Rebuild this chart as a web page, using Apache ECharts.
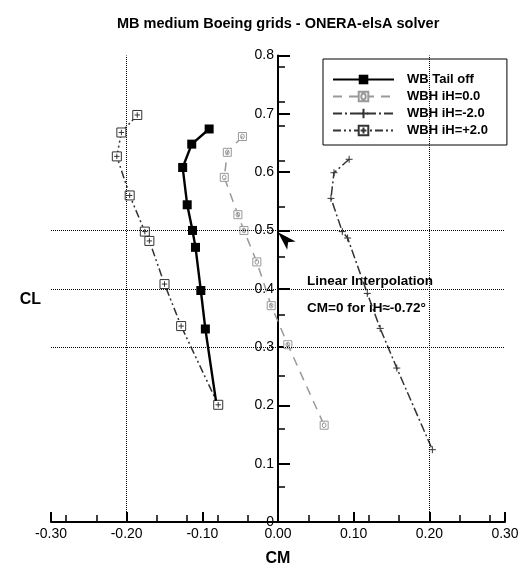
<!DOCTYPE html>
<html><head><meta charset="utf-8">
<script src="https://cdn.jsdelivr.net/npm/echarts@6/dist/echarts.min.js"></script>
<style>html,body{margin:0;padding:0;background:#fff}#c{width:525px;height:576px}</style>
</head><body><div id="c"></div>
<script>
// ---- data ----
const seriesNames = ['WB Tail off', 'WBH iH=0.0', 'WBH iH=-2.0', 'WBH iH=+2.0'];

const tailOffCM = [-0.091, -0.114, -0.126, -0.120, -0.113, -0.109, -0.102, -0.096, -0.082];
const tailOffCL = [0.674, 0.648, 0.608, 0.544, 0.500, 0.471, 0.397, 0.331, 0.208];

const ih0CM = [-0.047, -0.067, -0.071, -0.053, -0.045, -0.028, -0.009, 0.013, 0.061];
const ih0CL = [0.661, 0.634, 0.591, 0.527, 0.500, 0.446, 0.371, 0.304, 0.166];

const ihm2CM = [0.094, 0.074, 0.070, 0.085, 0.092, 0.118, 0.135, 0.157, 0.204];
const ihm2CL = [0.622, 0.599, 0.555, 0.498, 0.487, 0.392, 0.332, 0.264, 0.124];

const ihp2CM = [-0.186, -0.207, -0.213, -0.196, -0.176, -0.170, -0.150, -0.128, -0.079];
const ihp2CL = [0.698, 0.668, 0.627, 0.560, 0.498, 0.482, 0.408, 0.336, 0.201];

const cmMinorTicks = [-0.28, -0.24, -0.16, -0.12, -0.08, -0.04, 0.04, 0.08, 0.12, 0.16, 0.24, 0.28];
const clMinorTicks = [0.06, 0.16, 0.25, 0.355, 0.455, 0.54, 0.62, 0.68, 0.72, 0.78];
const gridCM = [-0.2, 0.2];
const gridCL = [0.3, 0.4, 0.5];
const arrowAt = [0.0, 0.497];

const titleText = 'MB medium Boeing grids - ONERA-elsA solver';
const noteLine1 = 'Linear Interpolation';
const noteLine2 = 'CM=0 for iH\u2248-0.72\u00b0';

// ---- chart ----
const FONT = '"Liberation Sans", Arial, Helvetica, sans-serif';
const pairs = (xs, ys) => xs.map((v, i) => [v, ys[i]]);

const boxPlus = 'path://M0,0L10,0L10,10L0,10Z M5,2L5,8 M2,5L8,5';
const plus = 'path://M5,0L5,10 M0,5L10,5';
const boxO = 'path://M0,0L10,0L10,10L0,10Z M5,2A2.3,3 0 1,0 5,8A2.3,3 0 1,0 5,2Z';

const tailData = pairs(tailOffCM, tailOffCL).map((p, i, a) =>
  i === a.length - 1 ? { value: p, symbol: 'none' } : p);

const Y_OFFSET = -227; // put the CL axis on CM = 0

const chart = echarts.init(document.getElementById('c'), null, { renderer: 'canvas' });
chart.setOption({
  animation: false,
  backgroundColor: '#fff',
  textStyle: { fontFamily: FONT },
  title: {
    text: titleText, left: 112, top: 11,
    textStyle: { fontSize: 14.5, fontWeight: 'bold', color: '#000', fontFamily: FONT }
  },
  grid: { left: 51, right: 20, top: 55.5, bottom: 54, containLabel: false, outerBoundsMode: 'none' },
  legend: {
    data: seriesNames, orient: 'vertical', left: 323, top: 59,
    padding: [14, 19, 8, 9], itemGap: 4, itemWidth: 61, itemHeight: 12,
    borderColor: '#000', borderWidth: 1, backgroundColor: '#fff',
    textStyle: { fontSize: 13, fontWeight: 'bold', color: '#000', fontFamily: FONT, padding: [0, 0, 0, 8] }
  },
  xAxis: [{
    type: 'value', min: -0.3, max: 0.3, interval: 0.1,
    name: 'CM', nameLocation: 'middle', nameGap: 29,
    nameTextStyle: { fontSize: 16, fontWeight: 'bold', color: '#000', fontFamily: FONT },
    axisLine: { onZero: false, lineStyle: { color: '#000', width: 2 } },
    axisTick: { inside: true, length: 10, lineStyle: { color: '#000', width: 2 } },
    axisLabel: { fontSize: 14, color: '#000', margin: 5, fontFamily: FONT, formatter: v => v.toFixed(2) },
    splitLine: { show: false }
  }, {
    type: 'value', min: -0.3, max: 0.3, position: 'bottom',
    axisLine: { show: false, onZero: false },
    axisTick: { inside: true, length: 7, customValues: cmMinorTicks, lineStyle: { color: '#000', width: 1.5 } },
    axisLabel: { show: false }, splitLine: { show: false }
  }],
  yAxis: [{
    type: 'value', min: 0, max: 0.8, interval: 0.1, position: 'left', offset: Y_OFFSET,
    name: 'CL', nameLocation: 'middle', nameGap: 237, nameRotate: 0,
    nameTextStyle: { fontSize: 16, fontWeight: 'bold', color: '#000', fontFamily: FONT, verticalAlign: 'top', padding: [3, 0, 0, 0] },
    axisLine: { onZero: false, lineStyle: { color: '#000', width: 2 } },
    axisTick: { inside: true, length: 12, lineStyle: { color: '#000', width: 2 } },
    axisLabel: { fontSize: 14, color: '#000', margin: 4, fontFamily: FONT, formatter: v => v === 0 ? '0' : v.toFixed(1) },
    splitLine: { show: false }
  }, {
    type: 'value', min: 0, max: 0.8, position: 'left', offset: Y_OFFSET,
    axisLine: { show: false, onZero: false },
    axisTick: { inside: true, length: 7, customValues: clMinorTicks, lineStyle: { color: '#000', width: 1.5 } },
    axisLabel: { show: false }, splitLine: { show: false }
  }],
  graphic: [
    { type: 'text', left: 307, top: 274, style: { text: noteLine1, fontSize: 13.5, fontWeight: 'bold', fontFamily: FONT, fill: '#000' } },
    { type: 'text', left: 307, top: 301, style: { text: noteLine2, fontSize: 13.5, fontWeight: 'bold', fontFamily: FONT, fill: '#000' } }
  ],
  series: [
    {
      type: 'line', name: 'grid', data: [], z: 1, silent: true,
      markLine: {
        silent: true, symbol: 'none', label: { show: false },
        lineStyle: { type: 'dotted', color: '#000', width: 1 },
        data: gridCM.map(v => ({ xAxis: v })).concat(gridCL.map(v => ({ yAxis: v })))
      },
      markPoint: {
        silent: true,
        data: [{ coord: arrowAt, symbol: 'arrow', symbolSize: [9, 19], symbolRotate: 45,
                 itemStyle: { color: '#000' }, label: { show: false } }]
      }
    },
    {
      type: 'line', name: seriesNames[1], data: pairs(ih0CM, ih0CL), z: 3,
      symbol: boxO, symbolSize: 8,
      itemStyle: { color: '#fff', borderColor: '#999', borderWidth: 1 },
      lineStyle: { color: '#999', width: 1.5, type: [9, 7] }
    },
    {
      type: 'line', name: seriesNames[2], data: pairs(ihm2CM, ihm2CL), z: 3,
      symbol: plus, symbolSize: 7,
      itemStyle: { color: '#fff', borderColor: '#333', borderWidth: 1 },
      lineStyle: { color: '#333', width: 1.5, type: [9, 3, 2, 3] }
    },
    {
      type: 'line', name: seriesNames[3], data: pairs(ihp2CM, ihp2CL), z: 3,
      symbol: boxPlus, symbolSize: 9,
      itemStyle: { color: '#fff', borderColor: '#333', borderWidth: 1 },
      lineStyle: { color: '#333', width: 1.5, type: [8, 3, 2, 3, 2, 3] }
    },
    {
      type: 'line', name: seriesNames[0], data: tailData, z: 4,
      symbol: 'rect', symbolSize: 9,
      itemStyle: { color: '#000' },
      lineStyle: { color: '#000', width: 2.4, type: 'solid' }
    }
  ]
});
</script>
</body></html>
